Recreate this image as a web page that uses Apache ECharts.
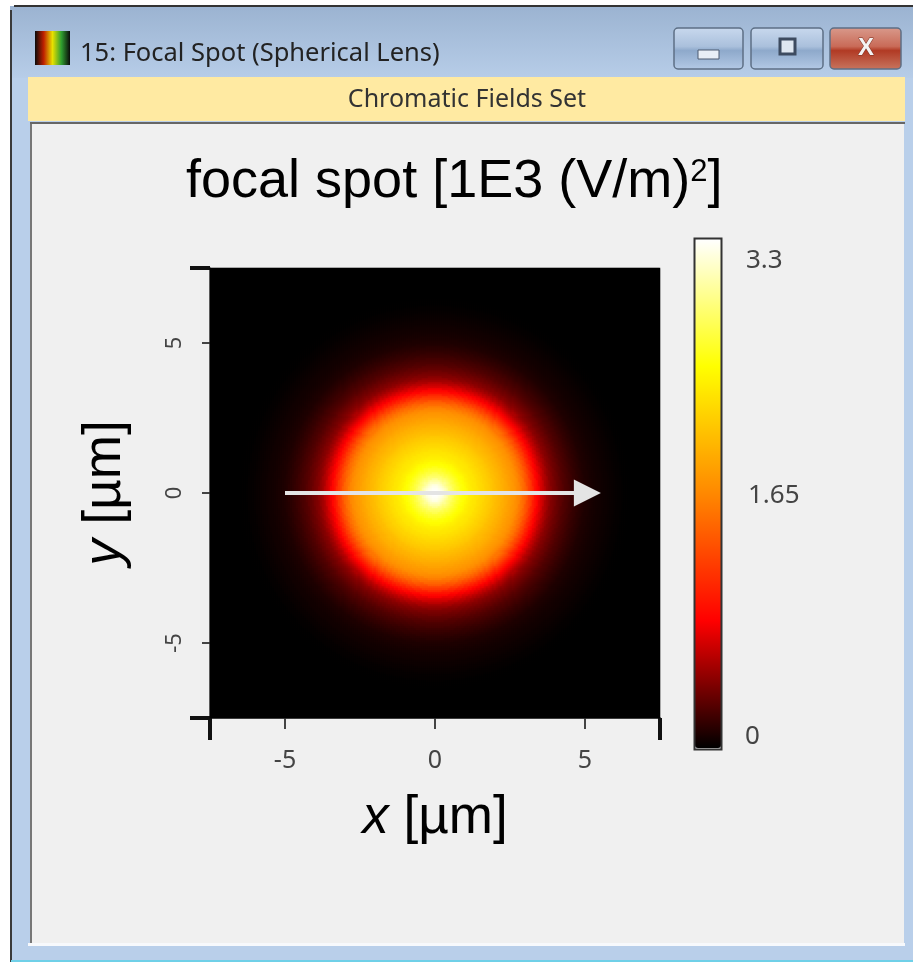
<!DOCTYPE html>
<html>
<head>
<meta charset="utf-8">
<style>html,body{margin:0;padding:0;background:#fff}#c{width:913px;height:962px}</style>
<script src="https://cdn.jsdelivr.net/npm/echarts@6/dist/echarts.min.js"></script>
</head>
<body>
<div id="c"></div>
<script>
// Radial intensity, one value per 0.05 µm of radius from the centre.
const radialProfile = [
  3.30,3.30,3.29,3.27,3.24,3.20,3.15,3.09,3.02,2.95,
  2.88,2.83,2.78,2.73,2.68,2.64,2.60,2.56,2.52,2.49,
  2.46,2.43,2.40,2.37,2.35,2.33,2.31,2.30,2.28,2.26,
  2.24,2.22,2.20,2.18,2.16,2.14,2.12,2.10,2.08,2.05,
  2.03,2.01,1.99,1.97,1.95,1.93,1.91,1.88,1.86,1.84,
  1.81,1.79,1.76,1.74,1.71,1.68,1.64,1.59,1.54,1.49,
  1.43,1.36,1.29,1.22,1.15,1.07,1.00,0.93,0.86,0.80,
  0.75,0.70,0.65,0.60,0.56,0.52,0.48,0.45,0.42,0.40,
  0.38,0.36,0.34,0.32,0.30,0.283,0.266,0.25,0.235,0.222,
  0.21,0.197,0.185,0.173,0.162,0.151,0.14,0.13,0.12,0.11,
  0.10,0.095,0.09,0.085,0.08,0.075,0.07,0.066,0.062,0.059,
  0.056,0.053,0.05,0.046,0.042,0.038,0.035,0.031,0.028,0.025,
  0.022,0.019,0.017,0.014,0.012,0.010,0.008,0.006,0.005,0.003,
  0.002,0.001,0];
const axisMin = -7.5, axisMax = 7.5;
const tickValues = [-5, 0, 5];
const cornerTicks = [-7.5, 7.5];
const colorStops = ['#000000', '#ff0000', '#ff8800', '#ffff00', '#ffffff'];
const colorMin = 0, colorMax = 3.3;
const colorbarLabels = ['3.3', '1.65', '0'];
const arrowPath = [[-5, 0], [5.08, 0]];
const windowTitle = '15: Focal Spot (Spherical Lens)';
const bandTitle = 'Chromatic Fields Set';

const cellsPerAxis = 225;
const cellSize = (axisMax - axisMin) / cellsPerAxis;
const centres = [];
for (let i = 0; i < cellsPerAxis; i++) centres.push(axisMin + (i + 0.5) * cellSize);
const cells = [];
centres.forEach((x, i) => centres.forEach((y, j) => {
  const idx = Math.round(Math.hypot(x, y) * 20);
  cells.push([i, j, idx < radialProfile.length ? radialProfile[idx] : 0]);
}));

const chart = echarts.init(document.getElementById('c'), null, {renderer: 'canvas'});
const sans = 'Liberation Sans';
const ui = 'Noto Sans';
const vGrad = (a, b, c, d) => ({type: 'linear', x: 0, y: 0, x2: 0, y2: 1, colorStops: [
  {offset: 0, color: a}, {offset: 0.45, color: b}, {offset: 0.55, color: c}, {offset: 1, color: d}]});
const box = (x, y, width, height, fill, z, extra) => Object.assign(
  {type: 'rect', z: z === undefined ? -10 : z, silent: true, shape: {x, y, width, height}, style: {fill}}, extra || {});
const button = (x, w, fill, glyph) => [
  box(x, 28, w, 41, fill, -5, {shape: {x, y: 28, width: w, height: 41, r: 4}, style: {fill, stroke: '#5d6f85', lineWidth: 1.5}}),
  glyph
];
const nameRich = {
  i: {fontFamily: sans, fontStyle: 'italic', fontWeight: 'normal', fontSize: 53, color: '#000'},
  n: {fontFamily: sans, fontWeight: 'normal', fontSize: 53, color: '#000'}
};

chart.setOption({
  animation: false,
  backgroundColor: '#ffffff',
  title: {
    text: '{a|focal spot [1E3 (V/m)}{s|2}{a|]}',
    left: 186, top: 152, padding: 0,
    textStyle: {fontWeight: 'normal', rich: {
      a: {fontFamily: sans, fontWeight: 'normal', fontSize: 54, color: '#000', lineHeight: 60},
      s: {fontFamily: sans, fontWeight: 'normal', fontSize: 31, color: '#000', lineHeight: 60, padding: [0, 0, 20, 0]}
    }}
  },
  grid: {left: 210, top: 268, width: 450, height: 450, containLabel: false},
  xAxis: [
    {type: 'category', data: centres, show: false, gridIndex: 0},
    {type: 'value', min: axisMin, max: axisMax, gridIndex: 0, position: 'bottom',
      name: '{i|x}{n|\u00a0[µm]}', nameLocation: 'middle', nameGap: 74,
      nameTextStyle: {rich: nameRich},
      splitLine: {show: false},
      axisLine: {show: true, onZero: false, lineStyle: {color: '#555', width: 2}},
      axisTick: {show: true, length: 11, customValues: tickValues, lineStyle: {color: '#444', width: 2}},
      axisLabel: {show: true, customValues: tickValues, margin: 30, color: '#444', fontFamily: ui, fontSize: 25,
        showMinLabel: true, showMaxLabel: true}},
    {type: 'value', min: axisMin, max: axisMax, gridIndex: 0, position: 'bottom',
      splitLine: {show: false}, axisLine: {show: false, onZero: false},
      axisTick: {show: true, length: 22, customValues: cornerTicks, lineStyle: {color: '#111', width: 4}},
      axisLabel: {show: false}}
  ],
  yAxis: [
    {type: 'category', data: centres, show: false, gridIndex: 0},
    {type: 'value', min: axisMin, max: axisMax, gridIndex: 0, position: 'left',
      name: '{i|y}{n|\u00a0[µm]}', nameLocation: 'middle', nameGap: 78, nameRotate: 90,
      nameTextStyle: {rich: nameRich},
      splitLine: {show: false},
      axisLine: {show: true, onZero: false, lineStyle: {color: '#808080', width: 2}},
      axisTick: {show: true, length: 8, customValues: tickValues, lineStyle: {color: '#444', width: 2}},
      axisLabel: {show: true, customValues: tickValues, rotate: 90, margin: 24, color: '#444', fontFamily: ui, fontSize: 22,
        showMinLabel: true, showMaxLabel: true}},
    {type: 'value', min: axisMin, max: axisMax, gridIndex: 0, position: 'left',
      splitLine: {show: false}, axisLine: {show: false, onZero: false},
      axisTick: {show: true, length: 20, customValues: cornerTicks, lineStyle: {color: '#111', width: 4}},
      axisLabel: {show: false}}
  ],
  visualMap: {
    type: 'continuous', seriesIndex: 0, min: colorMin, max: colorMax, calculable: false,
    left: 695, top: 239, itemWidth: 26, itemHeight: 509, padding: 0, text: ['', ''],
    inRange: {color: colorStops}
  },
  series: [
    {type: 'heatmap', xAxisIndex: 0, yAxisIndex: 0, data: cells, progressive: 0, silent: true,
      itemStyle: {borderWidth: 0}, emphasis: {disabled: true}},
    {type: 'line', xAxisIndex: 1, yAxisIndex: 1, silent: true, z: 10,
      data: [
        {value: arrowPath[0], symbol: 'none'},
        {value: arrowPath[1], symbol: 'triangle', symbolRotate: -90, symbolSize: [27, 27]}
      ],
      showSymbol: true, showAllSymbol: true,
      lineStyle: {color: '#e4e4e4', width: 4},
      itemStyle: {color: '#e4e4e4', opacity: 1}}
  ],
  graphic: {elements: [
    // window frame
    box(0, 0, 913, 962, '#ffffff'),
    box(10, 6, 903, 956, '#b9cfea', -10),
    box(10, 6, 903, 72, {type: 'linear', x: 0, y: 0, x2: 0, y2: 1, colorStops: [{offset: 0, color: '#9bb3d1'}, {offset: 1, color: '#b7cde8'}]}, -9),
    box(14, 5, 899, 2, '#333333', -8),
    box(10, 10, 2, 952, '#3a3a3a', -8),
    box(11, 960, 902, 2, '#6fd0e8', -8),
    // yellow band and client area
    box(28, 77, 877, 44, '#ffeaa2', -8),
    box(31, 123, 873, 820, '#f0f0f0', -8),
    box(30, 123, 2, 821, '#777777', -7),
    box(30, 122, 875, 2, '#666666', -7),
    box(28, 943, 877, 3, '#f7f9fc', -7),
    // window icon
    box(35, 31, 35, 34, {type: 'linear', x: 0, y: 0, x2: 1, y2: 0, colorStops: [
      {offset: 0, color: '#0a0a0a'}, {offset: 0.25, color: '#c02000'}, {offset: 0.5, color: '#e8e000'},
      {offset: 0.75, color: '#30a030'}, {offset: 1, color: '#0a0a0a'}]}, -6),
    // caption buttons
    ...button(674, 69, vGrad('#c9d9ee', '#aac0dc', '#8ea9cb', '#b4cae6'),
      box(698, 50, 21, 9, '#e8eef6', -4, {style: {fill: '#e8eef6', stroke: '#4d5b70', lineWidth: 1}})),
    ...button(751, 72, vGrad('#c9d9ee', '#aac0dc', '#8ea9cb', '#b4cae6'),
      box(780, 39, 15, 15, '#e8eef6', -4, {style: {fill: '#dfe7f1', stroke: '#3d4b60', lineWidth: 3}})),
    ...button(830, 71, vGrad('#d99a8c', '#c96b58', '#b13a24', '#c8765f'),
      {type: 'text', z: -4, silent: true, style: {x: 866, y: 48, text: 'X', fill: '#f4f4f4', stroke: '#7a3020', lineWidth: 1,
        font: 'bold 24px "Liberation Sans"', textAlign: 'center', textVerticalAlign: 'middle'}}),
    // caption texts
    {type: 'text', z: -4, silent: true, style: {x: 80, y: 54, text: windowTitle, fill: '#222',
      font: '25.5px "Noto Sans"', textVerticalAlign: 'middle'}},
    {type: 'text', z: -4, silent: true, style: {x: 467, y: 100, text: bandTitle, fill: '#333',
      font: '25px "Noto Sans"', textAlign: 'center', textVerticalAlign: 'middle'}},
    // colour bar frame and its labels
    {type: 'rect', z: 20, silent: true, shape: {x: 694.5, y: 238.5, width: 27, height: 511},
      style: {fill: 'transparent', stroke: '#333', lineWidth: 2}},
    {type: 'text', z: 20, silent: true, style: {x: 746, y: 261, text: colorbarLabels[0], fill: '#444',
      font: '26px "Noto Sans"', textVerticalAlign: 'middle'}},
    {type: 'text', z: 20, silent: true, style: {x: 748, y: 496, text: colorbarLabels[1], fill: '#444',
      font: '26px "Noto Sans"', textVerticalAlign: 'middle'}},
    {type: 'text', z: 20, silent: true, style: {x: 745, y: 737, text: colorbarLabels[2], fill: '#444',
      font: '26px "Noto Sans"', textVerticalAlign: 'middle'}}
  ]}
});
</script>
</body>
</html>
